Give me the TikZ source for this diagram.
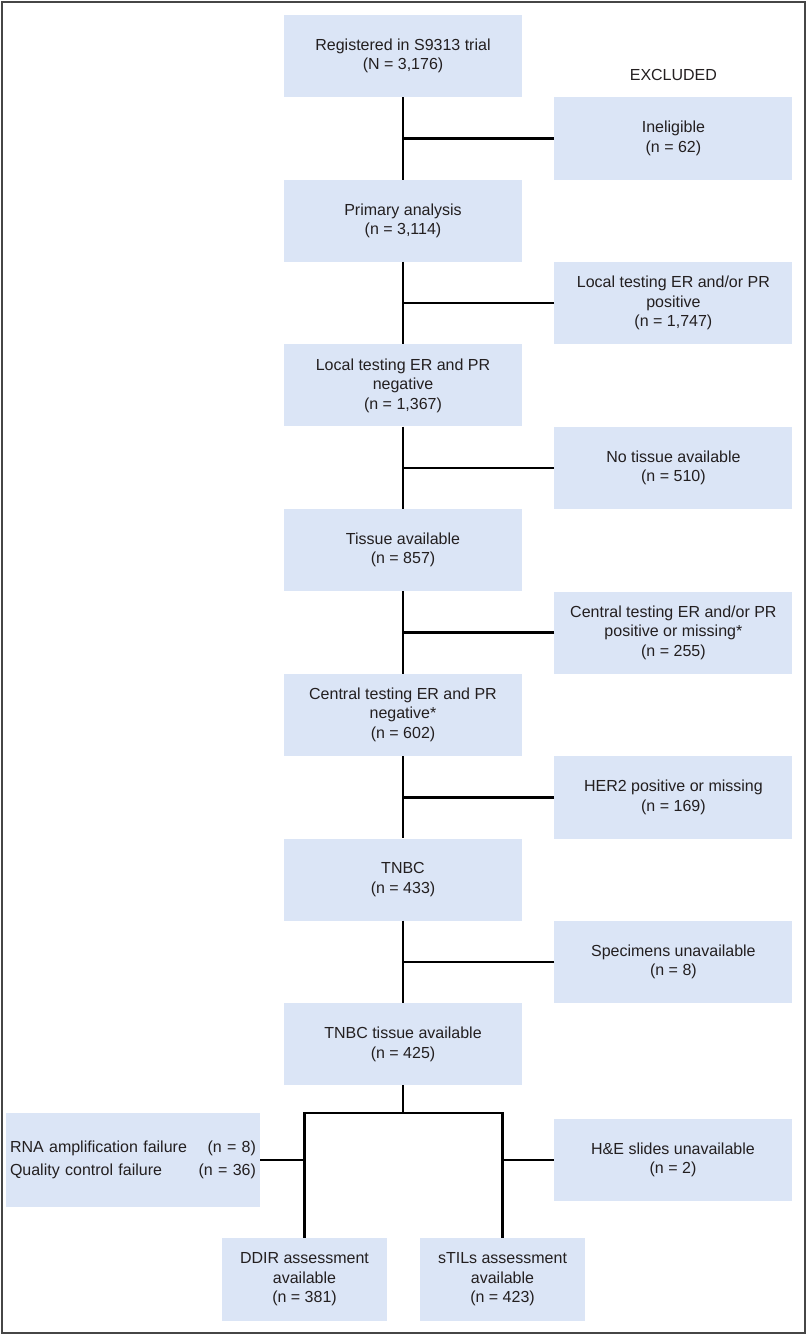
\documentclass[tikz,border=0pt]{standalone}
\usepackage{fontspec}
\setmainfont{Liberation Sans}
\usetikzlibrary{positioning}
\definecolor{boxblue}{RGB}{219,229,246}
\definecolor{framegray}{RGB}{70,70,70}
\definecolor{inkgray}{RGB}{35,31,32}
\begin{document}
\begin{tikzpicture}[x=1pt, y=-1pt, node distance=82.3pt,
	every node/.style={font=\fontsize{16}{19.5}\selectfont, text=inkgray},
	stage/.style={fill=boxblue, minimum width=238pt, minimum height=82pt, align=center, inner sep=4pt},
	drop/.style={stage, minimum height=82.3pt},
	result/.style={stage, minimum width=165pt, minimum height=83pt},
	link/.style={line width=2.4pt, line join=miter}]
\useasboundingbox (0,0) rectangle (807,1335);
\draw[framegray, line width=1.5pt] (2,2) rectangle (805,1333);
\node[stage] (reg) at (403,56) {Registered in S9313 trial\\(N = 3,176)};
\node[stage, below=of reg] (prim) {Primary analysis\\(n = 3,114)};
\node[stage, below=of prim] (locneg) {Local testing ER and PR\\negative\\(n = 1,367)};
\node[stage, below=of locneg] (tis) {Tissue available\\(n = 857)};
\node[stage, below=of tis] (cenneg) {Central testing ER and PR\\negative*\\(n = 602)};
\node[stage, below=of cenneg] (tnbc) {TNBC\\(n = 433)};
\node[stage, below=of tnbc] (tnbct) {TNBC tissue available\\(n = 425)};
\node[drop, below right=0pt and 32pt of reg.south east] (inel) {Ineligible\\(n = 62)};
\node[drop, below right=0pt and 32pt of prim.south east] (locpos) {Local testing ER and/or PR\\positive\\(n = 1,747)};
\node[drop, below right=0pt and 32pt of locneg.south east] (notis) {No tissue available\\(n = 510)};
\node[drop, below right=0pt and 32pt of tis.south east] (cenpos) {Central testing ER and/or PR\\positive or missing*\\(n = 255)};
\node[drop, below right=0pt and 32pt of cenneg.south east] (her) {HER2 positive or missing\\(n = 169)};
\node[drop, below right=0pt and 32pt of tnbc.south east] (spec) {Specimens unavailable\\(n = 8)};
\node[above=13pt of inel] (excl) {EXCLUDED};
\coordinate (split) at (403,1113);
\node[stage, minimum width=254pt, minimum height=94pt, text width=246pt, align=left] (fail) at (133,1160) {RNA amplification failure\hfill(n = 8)\\[3.5pt]Quality control failure\hfill(n = 36)};
\node[stage] (hne) at (673,1160) {H\&E slides unavailable\\(n = 2)};
\node[result] (ddir) at (304.5,1279.5) {DDIR assessment\\available\\(n = 381)};
\node[result] (stil) at (502.5,1279.5) {sTILs assessment\\available\\(n = 423)};
\draw[link] (reg.south) -- (prim.north);
\draw[link] (prim.south) -- (locneg.north);
\draw[link] (locneg.south) -- (tis.north);
\draw[link] (tis.south) -- (cenneg.north);
\draw[link] (cenneg.south) -- (tnbc.north);
\draw[link] (tnbc.south) -- (tnbct.north);
\draw[link] (inel.west) -- (inel.west -| reg.south);
\draw[link] (locpos.west) -- (locpos.west -| prim.south);
\draw[link] (notis.west) -- (notis.west -| locneg.south);
\draw[link] (cenpos.west) -- (cenpos.west -| tis.south);
\draw[link] (her.west) -- (her.west -| cenneg.south);
\draw[link] (spec.west) -- (spec.west -| tnbc.south);
\draw[link] (tnbct.south) -- (split);
\draw[link] (ddir.north) -- (ddir.north |- split) -- (stil.north |- split) -- (stil.north);
\draw[link] (fail.east) -- (fail.east -| ddir.north);
\draw[link] (hne.west) -- (hne.west -| stil.north);
\end{tikzpicture}
\end{document}
